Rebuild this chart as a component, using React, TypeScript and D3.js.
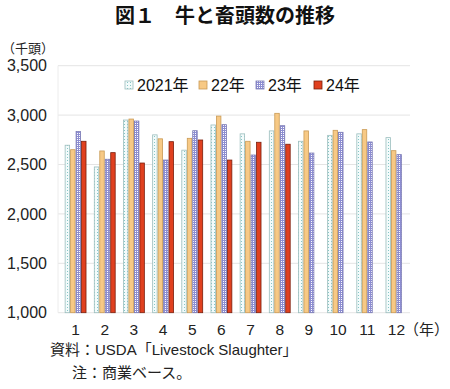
import React, { useEffect, useRef } from 'react';
import * as d3 from 'd3';

// monthly cattle slaughter (thousand head)
const months = ['1', '2', '3', '4', '5', '6', '7', '8', '9', '10', '11', '12'];
const seriesNames = ['2021年', '22年', '23年', '24年'];
const y2021 = [2695, 2475, 2950, 2800, 2645, 2900, 2810, 2840, 2735, 2795, 2810, 2772];
const y2022 = [2650, 2637, 2960, 2760, 2765, 2990, 2735, 3018, 2840, 2846, 2853, 2640];
const y2023 = [2835, 2553, 2940, 2545, 2842, 2903, 2596, 2893, 2616, 2826, 2728, 2600];
const y2024 = [2735, 2620, 2515, 2731, 2748, 2545, 2725, 2705];
const yTicks = [1000, 1500, 2000, 2500, 3000, 3500];

const JP = '"Noto Sans CJK JP", sans-serif';
const NUM = '"Liberation Sans", Arial, "Noto Sans CJK JP", sans-serif';

export default function App() {
  const ref = useRef<SVGSVGElement>(null);

  useEffect(() => {
    const svg = d3.select(ref.current);
    svg.selectAll('*').remove();

    const width = 450;
    const height = 389;
    svg.attr('width', width).attr('height', height);

    // patterns for 2021 (dots) and 2023 (check)
    const defs = svg.append('defs');
    const dots = defs
      .append('pattern')
      .attr('id', 'dots')
      .attr('patternUnits', 'userSpaceOnUse')
      .attr('width', 3)
      .attr('height', 3);
    dots.append('rect').attr('width', 3).attr('height', 3).attr('fill', '#f3fbfb');
    dots.append('rect').attr('x', 1).attr('y', 1).attr('width', 1).attr('height', 1).attr('fill', '#86c6c6');

    const check = defs
      .append('pattern')
      .attr('id', 'check')
      .attr('patternUnits', 'userSpaceOnUse')
      .attr('width', 2)
      .attr('height', 2);
    check.append('rect').attr('width', 2).attr('height', 2).attr('fill', '#ffffff');
    check.append('rect').attr('width', 2).attr('height', 1).attr('fill', '#8e8ed2');
    check.append('rect').attr('width', 1).attr('height', 2).attr('fill', '#8e8ed2');

    const fills = ['url(#dots)', '#f7c985', 'url(#check)', '#e0401f'];
    const strokes = ['#9bbdbd', '#c99a55', '#7a7ab5', '#7a1e0c'];
    const allSeries = [y2021, y2022, y2023, y2024];

    const plot = { left: 58, right: 410, top: 65.7, bottom: 312.7 };

    const x = d3
      .scaleBand()
      .domain(months)
      .range([61, 411])
      .paddingInner(0.25)
      .paddingOuter(0.125);
    const xs = d3.scaleBand().domain(seriesNames).range([0, x.bandwidth()]);
    const y = d3.scaleLinear().domain([1000, 3500]).range([plot.bottom, plot.top]);

    // title
    svg
      .append('text')
      .attr('x', 225)
      .attr('y', 23)
      .attr('text-anchor', 'middle')
      .attr('font-family', JP)
      .attr('font-weight', 'bold')
      .attr('font-size', 20)
      .attr('fill', '#111')
      .text('図１　牛と畜頭数の推移');

    svg
      .append('text')
      .attr('x', 2)
      .attr('y', 53)
      .attr('font-family', JP)
      .attr('font-size', 13)
      .attr('fill', '#222')
      .text('（千頭）');

    // grid
    svg
      .append('g')
      .selectAll('line')
      .data(yTicks)
      .enter()
      .append('line')
      .attr('x1', plot.left)
      .attr('x2', plot.right)
      .attr('y1', (d) => y(d))
      .attr('y2', (d) => y(d))
      .attr('stroke', '#e4e4e4')
      .attr('stroke-width', 1);
    svg
      .append('line')
      .attr('x1', plot.left)
      .attr('x2', plot.left)
      .attr('y1', plot.top)
      .attr('y2', plot.bottom)
      .attr('stroke', '#ececec');

    // y tick labels
    svg
      .append('g')
      .selectAll('text')
      .data(yTicks)
      .enter()
      .append('text')
      .attr('x', 47)
      .attr('y', (d) => y(d))
      .attr('dy', '0.36em')
      .attr('text-anchor', 'end')
      .attr('font-family', NUM)
      .attr('font-size', 16)
      .attr('fill', '#222')
      .text((d) => d3.format(',')(d));

    // bars
    allSeries.forEach((vals, si) => {
      svg
        .append('g')
        .selectAll('rect')
        .data(vals)
        .enter()
        .append('rect')
        .attr('x', (d, i) => x(months[i])! + xs(seriesNames[si])! + 0.5)
        .attr('y', (d) => y(d))
        .attr('width', xs.bandwidth() - 1)
        .attr('height', (d) => plot.bottom - y(d))
        .attr('fill', fills[si])
        .attr('stroke', strokes[si])
        .attr('stroke-width', 0.8);
    });

    // x labels
    svg
      .append('g')
      .selectAll('text')
      .data(months)
      .enter()
      .append('text')
      .attr('x', (d) => x(d)! + x.bandwidth() / 2)
      .attr('y', 335)
      .attr('text-anchor', 'middle')
      .attr('font-family', NUM)
      .attr('font-size', 15.5)
      .attr('fill', '#222')
      .text((d) => d);
    svg
      .append('text')
      .attr('x', 404)
      .attr('y', 335)
      .attr('font-family', JP)
      .attr('font-size', 15)
      .attr('fill', '#222')
      .text('（年）');

    // legend
    const legendSwatchX = [125, 199, 256, 314];
    const legend = svg.append('g');
    seriesNames.forEach((name, i) => {
      legend
        .append('rect')
        .attr('x', legendSwatchX[i])
        .attr('y', 81)
        .attr('width', 8)
        .attr('height', 8)
        .attr('fill', fills[i])
        .attr('stroke', strokes[i])
        .attr('stroke-width', 0.8);
      legend
        .append('text')
        .attr('x', legendSwatchX[i] + 12)
        .attr('y', 91)
        .attr('font-family', NUM)
        .attr('font-size', 16)
        .attr('fill', '#111')
        .text(name);
    });

    // notes
    svg
      .append('text')
      .attr('x', 50)
      .attr('y', 355)
      .attr('font-family', NUM)
      .attr('font-size', 15)
      .attr('fill', '#222')
      .text('資料：USDA「Livestock Slaughter」');
    svg
      .append('text')
      .attr('x', 72)
      .attr('y', 378)
      .attr('font-family', NUM)
      .attr('font-size', 15)
      .attr('fill', '#222')
      .text('注：商業ベース。');
  }, []);

  return <svg ref={ref} style={{ position: 'absolute', left: 0, top: 0 }} />;
}
